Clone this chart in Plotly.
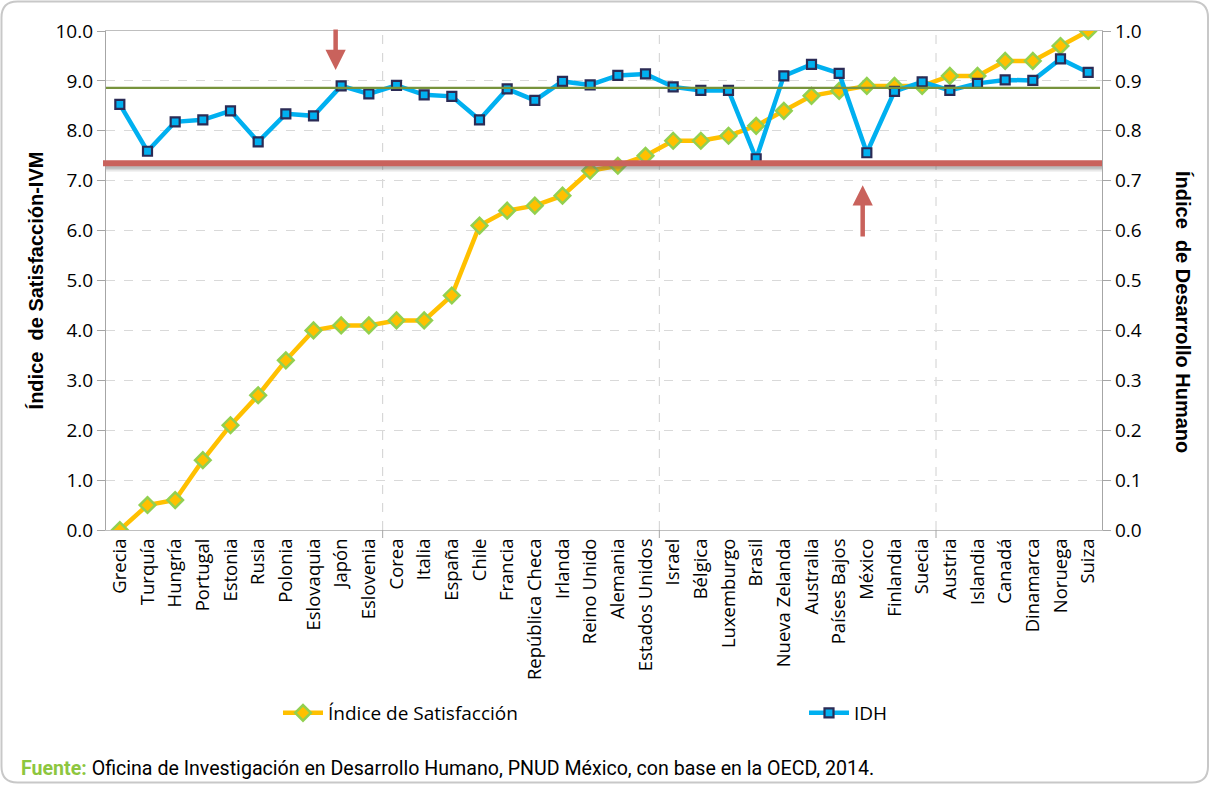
import plotly.graph_objects as go

countries = ["Grecia", "Turquía", "Hungría", "Portugal", "Estonia", "Rusia", "Polonia",
             "Eslovaquia", "Japón", "Eslovenia", "Corea", "Italia", "España", "Chile",
             "Francia", "República Checa", "Irlanda", "Reino Unido", "Alemania",
             "Estados Unidos", "Israel", "Bélgica", "Luxemburgo", "Brasil",
             "Nueva Zelanda", "Australia", "Países Bajos", "México", "Finlandia",
             "Suecia", "Austria", "Islandia", "Canadá", "Dinamarca", "Noruega", "Suiza"]

satisfaccion = [0.0, 0.5, 0.6, 1.4, 2.1, 2.7, 3.4, 4.0, 4.1, 4.1, 4.2, 4.2, 4.7, 6.1,
                6.4, 6.5, 6.7, 7.2, 7.3, 7.5, 7.8, 7.8, 7.9, 8.1, 8.4, 8.7, 8.8, 8.9,
                8.9, 8.9, 9.1, 9.1, 9.4, 9.4, 9.7, 10.0]

idh = [0.853, 0.759, 0.818, 0.822, 0.840, 0.778, 0.834, 0.830, 0.890, 0.874, 0.891,
       0.872, 0.869, 0.822, 0.884, 0.861, 0.899, 0.892, 0.911, 0.914, 0.888, 0.881,
       0.881, 0.744, 0.910, 0.933, 0.915, 0.756, 0.879, 0.898, 0.881, 0.895, 0.902,
       0.901, 0.944, 0.917]

left_ticks = [0, 1, 2, 3, 4, 5, 6, 7, 8, 9, 10]
right_ticks = [0, 0.1, 0.2, 0.3, 0.4, 0.5, 0.6, 0.7, 0.8, 0.9, 1.0]

green_ref = 8.86      # reference line (left-axis units)
red_ref = 7.35        # threshold line (left-axis units)
arrow_down = {"x": 7.8, "tail": 10.06, "head": 9.22}
arrow_up = {"x": 26.85, "tail": 5.85, "head": 6.91}
group_bounds = [9.5, 19.5, 29.5]

W, H = 1211, 785
ML, MR, MT, MB = 106, 109, 31, 255
PW, PH = W - ML - MR, H - MT - MB


def px2paper(px, py):
    return (px - ML) / PW, (H - MB - py) / PH


fig = go.Figure()

fig.add_trace(go.Scatter(
    x=countries, y=satisfaccion, name="Índice de Satisfacción", yaxis="y",
    legend="legend",
    mode="lines+markers",
    line=dict(color="#FFC000", width=4.5),
    marker=dict(symbol="diamond", size=12, color="#FFC000",
                line=dict(color="#92D050", width=2.5)),
))
fig.add_trace(go.Scatter(
    x=countries, y=idh, name="IDH", yaxis="y2",
    legend="legend2",
    mode="lines+markers",
    line=dict(color="#00B0F0", width=4.5),
    marker=dict(symbol="square", size=9, color="#00B0F0",
                line=dict(color="#2B2B55", width=2.2)),
))

shapes = []
for b in group_bounds:
    shapes.append(dict(type="line", xref="x", yref="y", x0=b, x1=b, y0=0, y1=10,
                       line=dict(color="#D0D0D0", width=1, dash="dash"), layer="below"))
    shapes.append(dict(type="line", xref="x", yref="paper", x0=b, x1=b, y0=0,
                       y1=-8 / PH, line=dict(color="#A6A6A6", width=1)))
for off, op in [(0.11, 0.10), (0.08, 0.16), (0.05, 0.22)]:
    shapes.append(dict(type="line", xref="paper", yref="y", x0=0, x1=1,
                       y0=red_ref - off, y1=red_ref - off,
                       line=dict(color="#606060", width=6), opacity=op, layer="above"))
shapes.append(dict(type="line", xref="paper", yref="y", x0=-0.003, x1=1,
                   y0=red_ref, y1=red_ref,
                   line=dict(color="#C9625C", width=6), layer="above"))
shapes.append(dict(type="line", xref="paper", yref="y", x0=0, x1=0.998,
                   y0=green_ref, y1=green_ref,
                   line=dict(color="#77933C", width=2.2), layer="above"))

r = 16
x0p, y0p, x1p, y1p = 1.5, 1.5, W - 3, H - 2.5


def P(px, py):
    a, b = px2paper(px, py)
    return f"{a:.5f},{b:.5f}"


path = (f"M {P(x0p + r, y0p)} L {P(x1p - r, y0p)} Q {P(x1p, y0p)} {P(x1p, y0p + r)} "
        f"L {P(x1p, y1p - r)} Q {P(x1p, y1p)} {P(x1p - r, y1p)} "
        f"L {P(x0p + r, y1p)} Q {P(x0p, y1p)} {P(x0p, y1p - r)} "
        f"L {P(x0p, y0p + r)} Q {P(x0p, y0p)} {P(x0p + r, y0p)} Z")
shapes.append(dict(type="path", xref="paper", yref="paper", path=path,
                   line=dict(color="#C8C8C8", width=2), layer="below"))

annotations = []
for a in (arrow_down, arrow_up):
    annotations.append(dict(x=a["x"], y=a["head"], ax=a["x"], ay=a["tail"],
                            xref="x", yref="y", axref="x", ayref="y", text="",
                            showarrow=True, arrowhead=2, arrowsize=0.9,
                            arrowwidth=4.5, arrowcolor="#C9625C"))

fx, fy = px2paper(1183, 312)
annotations.append(dict(x=fx, y=fy, xref="paper", yref="paper",
                        text="<b>Índice  de Desarrollo Humano</b>", textangle=90,
                        showarrow=False, xanchor="center", yanchor="middle",
                        font=dict(family="Liberation Sans", size=20, color="#000000")))
fx, fy = px2paper(19, 768)
annotations.append(dict(x=fx, y=fy, xref="paper", yref="paper",
                        text="<b><span style='color:#8DC63F'>Fuente:</span></b> Oficina de Investigación en Desarrollo Humano, PNUD México, con base en la OECD, 2014.",
                        showarrow=False, xanchor="left", yanchor="middle",
                        font=dict(family="Roboto", size=19.6, color="#000000")))

lx, ly = px2paper(278, 713)
lx2, _ = px2paper(804, 713)
legend_font = dict(family="Open Sans", size=19, color="#000000")

fig.update_layout(
    width=W, height=H,
    margin=dict(l=ML, r=MR, t=MT, b=MB, autoexpand=False),
    paper_bgcolor="white", plot_bgcolor="white",
    showlegend=True,
    legend=dict(orientation="h", x=lx, y=ly, xanchor="left", yanchor="middle",
                itemwidth=40, font=legend_font, bgcolor="rgba(0,0,0,0)"),
    legend2=dict(orientation="h", x=lx2, y=ly, xanchor="left", yanchor="middle",
                 itemwidth=40, font=legend_font, bgcolor="rgba(0,0,0,0)"),
    xaxis=dict(type="category", categoryorder="array", categoryarray=countries,
               range=[-0.5, len(countries) - 0.5],
               tickangle=-90, showgrid=False, ticks="", showline=True, mirror=True,
               linecolor="#BFBFBF", linewidth=1.2,
               tickfont=dict(family="Open Sans", size=18.5, color="#000000")),
    yaxis=dict(range=[0, 10], tickvals=left_ticks,
               ticktext=[f"{v:.1f}" for v in left_ticks],
               showgrid=True, gridcolor="#D9D9D9", griddash="dash", gridwidth=1,
               zeroline=False, showline=True, linecolor="#A6A6A6", linewidth=1.2,
               ticks="outside", ticklen=8, tickcolor="#A6A6A6",
               tickfont=dict(family="Open Sans", size=19, color="#000000"),
               title=dict(text="<b>Índice  de Satisfacción-IVM</b>", standoff=6,
                          font=dict(family="Liberation Sans", size=20, color="#000000"))),
    yaxis2=dict(range=[0, 1], tickvals=right_ticks,
                ticktext=[f"{v:.1f}" for v in right_ticks],
                overlaying="y", side="right", showgrid=False, zeroline=False,
                showline=True, linecolor="#A6A6A6", linewidth=1.2,
                ticks="outside", ticklen=8, tickcolor="#A6A6A6",
                tickfont=dict(family="Open Sans", size=19, color="#000000")),
    shapes=shapes,
    annotations=annotations,
)

fig.write_html("out.html", config={"displayModeBar": False},
               post_script="document.body.style.margin='0';")
